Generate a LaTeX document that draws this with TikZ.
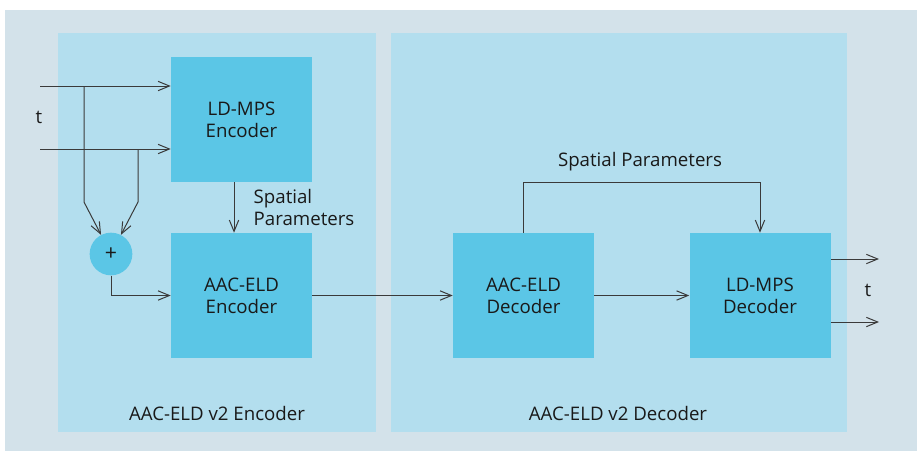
\documentclass[tikz,border=0pt]{standalone}
\usepackage{fontspec}
\setmainfont{Open Sans}
\usepackage{xcolor}
\usetikzlibrary{arrows.meta,positioning}

\definecolor{outerbg}{HTML}{D3E2EA}
\definecolor{panelbg}{HTML}{B3DEEE}
\definecolor{blockbg}{HTML}{5BC6E6}
\definecolor{wire}{HTML}{3A3A3A}

\begin{document}
\begin{tikzpicture}[
  x=0.75pt,
  y=-0.75pt,
  every node/.style={font=\fontsize{14}{16.5}\selectfont,text=black!90},
  block/.style={fill=blockbg,minimum width=105.75pt,minimum height=93.75pt,
    inner sep=0pt,align=center},
  adder/.style={circle,fill=blockbg,minimum size=32pt,inner sep=0pt},
  flow/.style={-{Straight Barb[length=8.5pt,width=7pt]},draw=wire,line width=0.75pt},
  wireline/.style={draw=wire,line width=0.75pt}
]
\useasboundingbox (0,0) rectangle (917,451);

% Background and the two panels.
\fill[outerbg] (5,10) rectangle (917,451);
\fill[panelbg] (58,33) rectangle (376,432);
\fill[panelbg] (391,33) rectangle (847,432);
\node (enclabel) at (217,413) {AAC-ELD v2 Encoder};
\node (declabel) at (618,413) {AAC-ELD v2 Decoder};

% Encoder side.
\node[block] (ldmpsenc) at (241.5,119.5) {LD-MPS\\Encoder};
\node[block] (aacenc) at (241.5,295.5) {AAC-ELD\\Encoder};
\node[adder] (plus) at (111,254) {\fontsize{16}{18}\selectfont +};

% Decoder side.
\node[block] (aacdec) at (523.5,295.5) {AAC-ELD\\Decoder};
\node[block] (ldmpsdec) at (760,295.5) {LD-MPS\\Decoder};

% Inputs and their branches into the adder.
\coordinate (in1) at (40,86);
\coordinate (in2) at (40,149);
\coordinate (br1) at (84,86);
\coordinate (br2) at (138,149);
\coordinate (kn1) at (84,202);
\coordinate (kn2) at (138,202);
\node (tin) at (39,117) {t};

\draw[flow] (in1) -- (in1 -| ldmpsenc.west);
\draw[flow] (in2) -- (in2 -| ldmpsenc.west);
\draw[flow] (br1) -- (kn1) -- (plus);
\draw[flow] (br2) -- (kn2) -- (plus);
\draw[flow] (plus) |- (aacenc.west);

% Spatial parameters inside the encoder.
\draw[flow] ([xshift=-5.6pt]ldmpsenc.south) -- ([xshift=-5.6pt]aacenc.north);
\node[anchor=west,align=left] (spenc) at (249,207) {Spatial\\Parameters};

% Transmission and decoding.
\draw[flow] (aacenc.east) -- (aacdec.west);
\draw[flow] (aacdec.east) -- (ldmpsdec.west);
\draw[flow] (aacdec.north) -- ++(0,-50) -| (ldmpsdec.north);
\node (spdec) at (640,162) {Spatial Parameters};

% Outputs.
\coordinate (out1) at (879,259);
\coordinate (out2) at (879,322);
\draw[flow] (ldmpsdec.east |- out1) -- (out1);
\draw[flow] (ldmpsdec.east |- out2) -- (out2);
\node (tout) at (868,290) {t};
\end{tikzpicture}
\end{document}
